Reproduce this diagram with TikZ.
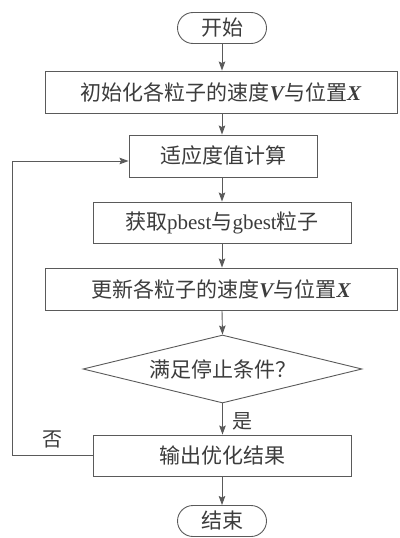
\documentclass[tikz,border=0pt]{standalone}
\usepackage{fontspec}
\setmainfont{Liberation Serif}
\newfontfamily\cjk{Noto Sans CJK SC}
\usetikzlibrary{shapes.geometric,arrows.meta,calc}
\definecolor{ln}{HTML}{5A5A5A}
\definecolor{tx}{HTML}{3C3C3C}
\newcommand{\lat}[1]{{\rmfamily #1}}
\newcommand{\vb}[1]{{\rmfamily\bfseries\itshape #1}}
\begin{document}
\begin{tikzpicture}[x=1pt,y=-1pt,
  every node/.style={font=\cjk\fontsize{21}{24}\selectfont, text=tx},
  box/.style={draw=ln, line width=0.9pt, rectangle, inner sep=0pt, fill=white},
  term/.style={draw=ln, line width=0.9pt, rectangle, rounded corners=15.5pt, inner sep=0pt, minimum width=89pt, minimum height=31pt},
  dec/.style={draw=ln, line width=0.9pt, diamond, aspect=4.1, inner sep=0pt, minimum width=279pt, minimum height=68pt},
  flow/.style={draw=ln, line width=0.9pt, -{Stealth[length=9pt,width=6.5pt,inset=1.5pt]}},
  lbl/.style={font=\cjk\fontsize{20}{22}\selectfont}
]
\useasboundingbox (0,0) rectangle (399,538);
\node[term] (start) at (222,28) {开始};
\node[box, minimum width=352pt, minimum height=42pt] (b1) at (221,92) {初始化各粒子的速度\vb{V}与位置\vb{X}};
\node[box, minimum width=188pt, minimum height=42pt] (b2) at (223,156) {适应度值计算};
\node[box, minimum width=258pt, minimum height=41pt] (b3) at (222,222.5) {获取\lat{pbest}与\lat{gbest}粒子};
\node[box, minimum width=352pt, minimum height=42pt] (b4) at (221,289) {更新各粒子的速度\vb{V}与位置\vb{X}};
\node[dec] (d) at (222.5,369) {满足停止条件？};
\node[box, minimum width=258pt, minimum height=41pt] (b5) at (222,455.5) {输出优化结果};
\node[term] (end) at (222,521) {结束};
\coordinate (tl) at (12,161);
\coordinate (bl) at (12,455.5);
\draw[flow] (start.south -| 222,0) -- (b1.north -| 222,0);
\draw[flow] (b1.south -| 222,0) -- (b2.north -| 222,0);
\draw[flow] (b2.south -| 222,0) -- (b3.north -| 222,0);
\draw[flow] (b3.south -| 222,0) -- (b4.north -| 222,0);
\draw[flow] (b4.south -| 222,0) -- (d.north);
\draw[flow] (d.south) -- (b5.north -| d.south);
\draw[flow] (end.north |- b5.south) -- (end.north);
\draw[draw=ln, line width=0.9pt] (b5.west) -- (bl) -- (tl);
\draw[flow] (tl) -- (tl -| b2.west);
\node[lbl, anchor=west] (yes) at (229,421) {是};
\node[lbl] (no) at (52,439) {否};
\end{tikzpicture}
\end{document}
